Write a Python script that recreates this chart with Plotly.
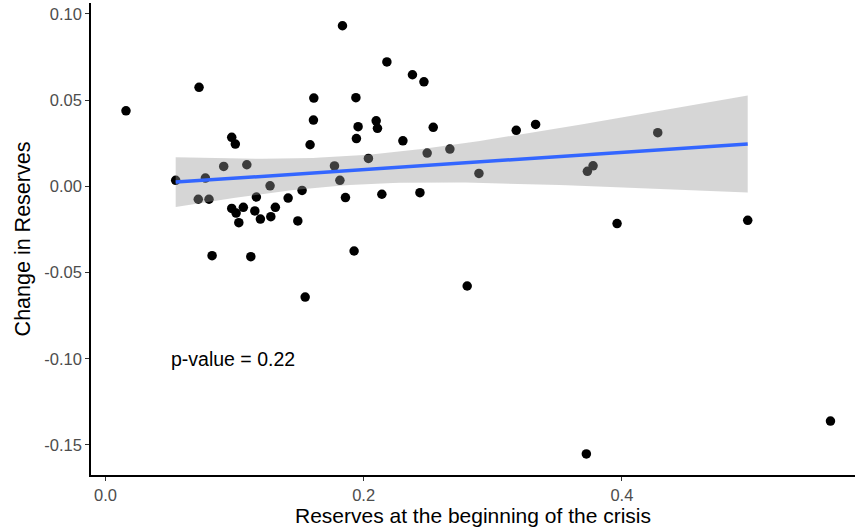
import numpy as np
import plotly.graph_objects as go

# Reserves at the beginning of the crisis (x) and change in reserves (y)
reserves_start = [
    0.0159, 0.0725, 0.0544, 0.0719, 0.0774, 0.0802, 0.0826, 0.0916, 0.0978, 0.1006,
    0.0978, 0.1012, 0.1033, 0.1068, 0.1095, 0.1126, 0.1169, 0.1157, 0.1200, 0.1275,
    0.1281, 0.1316, 0.1415, 0.1490, 0.1523, 0.1547, 0.1585, 0.1611, 0.1614, 0.1774,
    0.1816, 0.1836, 0.1859, 0.1926, 0.1940, 0.1957, 0.1944, 0.2037, 0.2097, 0.2107,
    0.2141, 0.2180, 0.2304, 0.2378, 0.2436, 0.2467, 0.2492, 0.2539, 0.2668, 0.2802,
    0.2893, 0.3182, 0.3332, 0.3725, 0.3733, 0.3777, 0.3963, 0.4278, 0.4975, 0.5616,
]
reserves_change = [
    0.0438, 0.0574, 0.0035, -0.0075, 0.0048, -0.0075, -0.0402, 0.0115, 0.0284, 0.0245,
    -0.0128, -0.0155, -0.0211, -0.0122, 0.0125, -0.0408, -0.0062, -0.0143, -0.0190, 0.0003,
    -0.0176, -0.0122, -0.0068, -0.0201, -0.0024, -0.0642, 0.0241, 0.0384, 0.0512, 0.0118,
    0.0035, 0.0931, -0.0065, -0.0375, 0.0514, 0.0346, 0.0277, 0.0162, 0.0380, 0.0336,
    -0.0046, 0.0721, 0.0264, 0.0647, -0.0037, 0.0606, 0.0193, 0.0342, 0.0216, -0.0578,
    0.0075, 0.0325, 0.0359, -0.1552, 0.0087, 0.0119, -0.0216, 0.0311, -0.0197, -0.1361,
]
# observations used for the fitted line: the extreme outliers are left out
fit_x_min = 0.05
fit_x_max = 0.50
fit_y_min = -0.10

y_tick_vals = [0.10, 0.05, 0.00, -0.05, -0.10, -0.15]
y_tick_text = ["0.10", "0.05", "0.00", "-0.05", "-0.10", "-0.15"]
x_tick_vals = [0.0, 0.2, 0.4]
x_tick_text = ["0.0", "0.2", "0.4"]
p_value_text = "p-value = 0.22"

x = np.array(reserves_start)
y = np.array(reserves_change)
mask = (x >= fit_x_min) & (x <= fit_x_max) & (y >= fit_y_min)
xf, yf = x[mask], y[mask]
n = len(xf)
b1, b0 = np.polyfit(xf, yf, 1)
resid = yf - (b0 + b1 * xf)
s = np.sqrt(np.sum(resid ** 2) / (n - 2))
xbar = xf.mean()
sxx = np.sum((xf - xbar) ** 2)
z = 1.959964
df = n - 2
tq = z + (z ** 3 + z) / (4 * df) + (5 * z ** 5 + 16 * z ** 3 + 3 * z) / (96 * df ** 2)

grid = np.linspace(xf.min(), xf.max(), 80)
pred = b0 + b1 * grid
se = s * np.sqrt(1 / n + (grid - xbar) ** 2 / sxx)
upper = pred + tq * se
lower = pred - tq * se

FONT = "Liberation Sans, Arial, sans-serif"

fig = go.Figure()
fig.add_trace(go.Scatter(
    x=reserves_start, y=reserves_change, mode="markers",
    marker=dict(color="black", size=9.5, line=dict(width=0)),
    hoverinfo="skip", showlegend=False,
))
fig.add_trace(go.Scatter(
    x=np.concatenate([grid, grid[::-1]]), y=np.concatenate([upper, lower[::-1]]),
    mode="lines", fill="toself", fillcolor="rgba(153,153,153,0.4)",
    line=dict(width=0), hoverinfo="skip", showlegend=False,
))
fig.add_trace(go.Scatter(
    x=grid, y=pred, mode="lines", line=dict(color="#3366FF", width=3.5),
    hoverinfo="skip", showlegend=False,
))

fig.add_annotation(
    x=0.0988, y=-0.1001, xref="x", yref="y", text=p_value_text, showarrow=False,
    font=dict(family=FONT, size=19.5, color="black"),
)

axis_common = dict(
    showgrid=False, zeroline=False, showline=True, linecolor="black", linewidth=1.6,
    ticks="outside", ticklen=4, tickwidth=1.2, tickcolor="#333333",
    tickfont=dict(family=FONT, size=16.5, color="#4D4D4D"),
)

fig.update_layout(
    width=855, height=531,
    margin=dict(l=91, r=0, t=3, b=56),
    paper_bgcolor="white", plot_bgcolor="white",
    xaxis=dict(
        range=[-0.0112, 0.5806], tickvals=x_tick_vals, ticktext=x_tick_text,
        title=dict(text="Reserves at the beginning of the crisis", standoff=6,
                   font=dict(family=FONT, size=21, color="black")),
        **axis_common,
    ),
    yaxis=dict(
        range=[-0.1674, 0.1063], tickvals=y_tick_vals, ticktext=y_tick_text,
        title=dict(text="Change in Reserves", standoff=8,
                   font=dict(family=FONT, size=21.5, color="black")),
        **axis_common,
    ),
)

fig.write_html("out.html", config={"displayModeBar": False},
               post_script="document.body.style.margin='0';")
